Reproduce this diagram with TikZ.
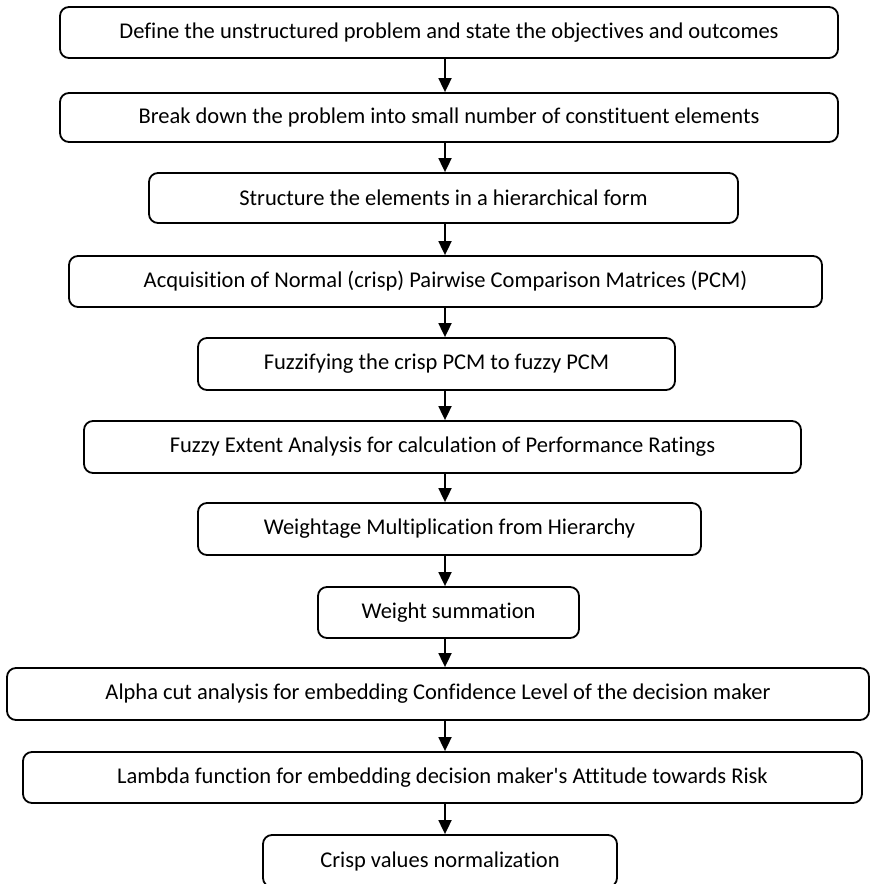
\documentclass[tikz,border=0pt]{standalone}
\usepackage{fontspec}
\setmainfont{Carlito}[Ligatures=NoCommon]
\usetikzlibrary{arrows.meta}
\begin{document}
\begin{tikzpicture}[x=1pt,y=-1pt,
  stepbox/.style={draw, line width=1.8pt, rounded corners=9pt, inner sep=0pt,
    font=\fontsize{22.5}{27}\selectfont, align=center},
  flow/.style={line width=1.8pt, -{Triangle[length=14pt,width=13pt]}}]
\useasboundingbox (0,0) rectangle (871,884);
\coordinate (axis) at (445,0);

\node[stepbox, minimum width=778pt, minimum height=51pt] (b1) at (449,32.5)
  {Define the unstructured problem and state the objectives and outcomes};
\node[stepbox, minimum width=778pt, minimum height=49pt] (b2) at (449,117.5)
  {Break down the problem into small number of constituent elements};
\node[stepbox, minimum width=589pt, minimum height=50pt] (b3) at (443.5,198)
  {Structure the elements in a hierarchical form};
\node[stepbox, minimum width=753pt, minimum height=51pt] (b4) at (445.5,281.5)
  {Acquisition of Normal (crisp) Pairwise Comparison Matrices (PCM)};
\node[stepbox, minimum width=477pt, minimum height=52pt] (b5) at (436.5,364)
  {Fuzzifying the crisp PCM to fuzzy PCM};
\node[stepbox, minimum width=717pt, minimum height=52pt] (b6) at (442.5,447)
  {Fuzzy Extent Analysis for calculation of Performance Ratings};
\node[stepbox, minimum width=503pt, minimum height=52pt] (b7) at (449.5,529)
  {Weightage Multiplication from Hierarchy};
\node[stepbox, minimum width=261pt, minimum height=51pt] (b8) at (448.5,612.5)
  {Weight summation};
\node[stepbox, minimum width=862pt, minimum height=52pt] (b9) at (438,694)
  {Alpha cut analysis for embedding Confidence Level of the decision maker};
\node[stepbox, minimum width=839pt, minimum height=51pt] (b10) at (442.5,777.5)
  {Lambda function for embedding decision maker\textquotesingle s Attitude towards Risk};
\node[stepbox, minimum width=354pt, minimum height=52pt] (b11) at (440,861)
  {Crisp values normalization};

\foreach \a/\b in {b1/b2,b2/b3,b3/b4,b4/b5,b5/b6,b6/b7,b7/b8,b8/b9,b9/b10,b10/b11}
  \draw[flow] (\a.south -| axis) -- (\b.north -| axis);
\end{tikzpicture}
\end{document}
